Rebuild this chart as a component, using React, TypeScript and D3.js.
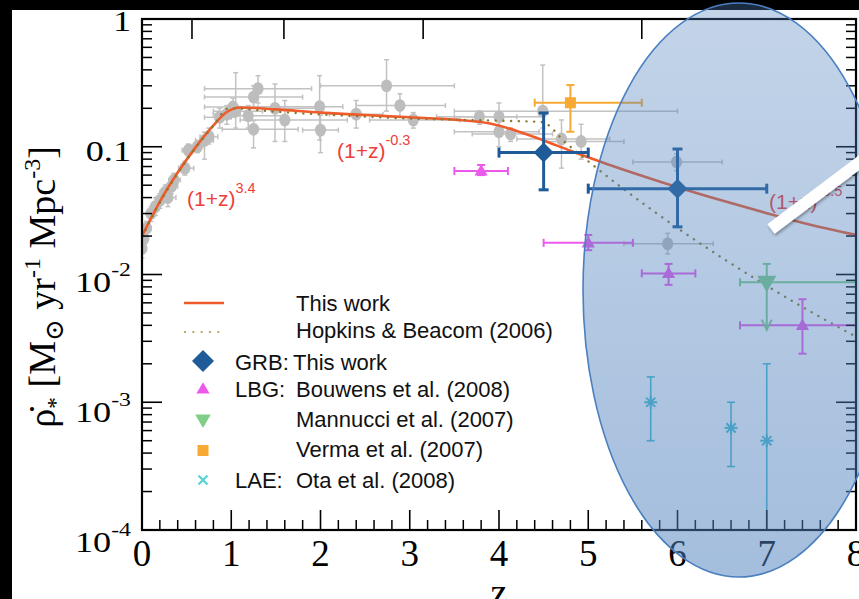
import React from "react";
import * as d3 from "d3";

const W = 859;
const H = 599;

// Compilation of earlier star-formation-rate measurements (grey)
const compZ = [0.0, 0.02, 0.05, 0.1, 0.15, 0.2, 0.26, 0.29, 0.33, 0.36, 0.48, 0.52, 0.62, 0.7, 0.75, 0.87, 0.95, 1.02, 1.05, 1.19, 1.25, 1.25, 1.3, 1.49, 1.6, 1.99, 2.0, 2.4, 2.74, 2.89, 3.04, 3.78, 4.0, 4.0, 4.13, 4.49, 4.7, 4.92, 5.99, 5.89];
const compRate = [0.016, 0.019, 0.023, 0.03, 0.034, 0.038, 0.044, 0.04, 0.049, 0.055, 0.068, 0.094, 0.1, 0.112, 0.12, 0.17, 0.18, 0.205, 0.19, 0.175, 0.137, 0.245, 0.285, 0.2, 0.162, 0.206, 0.135, 0.18, 0.3, 0.21, 0.162, 0.172, 0.172, 0.131, 0.126, 0.19, 0.115, 0.11, 0.076, 0.0174];
const compZLow = [0.0, 0.0, 0.01, 0.05, 0.1, 0.15, 0.2, 0.2, 0.26, 0.3, 0.41, 0.45, 0.55, 0.6, 0.65, 0.7, 0.8, 0.7, 0.8, 0.9, 0.9, 0.7, 0.7, 1.1, 1.1, 1.25, 1.8, 2.1, 2.0, 2.4, 2.55, 3.3, 3.5, 3.5, 3.7, 3.5, 4.2, 4.5, 5.5, 5.4];
const compZHigh = [0.03, 0.05, 0.1, 0.15, 0.2, 0.25, 0.33, 0.38, 0.4, 0.43, 0.58, 0.6, 0.7, 0.8, 0.85, 1.0, 1.1, 1.3, 1.35, 1.6, 1.75, 1.8, 1.9, 2.0, 2.3, 2.25, 2.2, 2.7, 3.5, 3.4, 3.56, 4.2, 4.5, 4.45, 4.6, 6.0, 5.24, 5.4, 6.5, 6.4];
const compRateLow = [0.0135, 0.0165, 0.02, 0.026, 0.029, 0.033, 0.038, 0.034, 0.043, 0.049, 0.06, 0.085, 0.09, 0.08, 0.105, 0.14, 0.15, 0.17, 0.14, 0.14, 0.098, 0.2, 0.22, 0.11, 0.11, 0.113, 0.09, 0.14, 0.19, 0.17, 0.14, 0.15, 0.13, 0.1, 0.11, 0.14, 0.068, 0.08, 0.065, 0.0145];
const compRateHigh = [0.019, 0.022, 0.026, 0.034, 0.04, 0.043, 0.05, 0.046, 0.055, 0.062, 0.077, 0.105, 0.112, 0.13, 0.14, 0.2, 0.21, 0.24, 0.38, 0.21, 0.16, 0.3, 0.36, 0.31, 0.23, 0.36, 0.177, 0.23, 0.48, 0.26, 0.185, 0.19, 0.22, 0.16, 0.14, 0.436, 0.162, 0.15, 0.088, 0.021];

// Broken power-law fit: (1+z)^3.4, (1+z)^-0.3, (1+z)^-3.5
const fitZ = [0, 0.2, 0.4, 0.6, 0.8, 0.95, 1.1, 1.5, 2, 2.5, 3, 3.5, 3.9, 4.2, 4.5, 4.8, 5.2, 5.6, 6, 6.5, 7, 7.5, 8];
const fitRate = [0.02, 0.0372, 0.0628, 0.0989, 0.147, 0.187, 0.203, 0.196, 0.185, 0.177, 0.17, 0.163, 0.152, 0.133, 0.112, 0.093, 0.0737, 0.0593, 0.0482, 0.0379, 0.0302, 0.0244, 0.0204];

// Hopkins & Beacom (2006)
const hbZ = [0, 0.2, 0.4, 0.6, 0.8, 0.97, 1.5, 2, 2.5, 3, 3.5, 4, 4.48, 4.75, 5, 5.25, 5.5, 5.75, 6, 6.5, 7, 7.5, 8];
const hbRate = [0.0197, 0.0366, 0.062, 0.098, 0.146, 0.2, 0.188, 0.179, 0.172, 0.166, 0.163, 0.16, 0.156, 0.107, 0.0769, 0.0559, 0.0412, 0.0307, 0.0231, 0.0135, 0.00816, 0.00508, 0.00326];

// GRB: this work
const grbZ = [4.5, 6.0];
const grbRate = [0.09, 0.047];
const grbZLow = [4.0, 5.0];
const grbZHigh = [5.0, 7.0];
const grbRateLow = [0.046, 0.0236];
const grbRateHigh = [0.184, 0.096];

// LBG: Bouwens et al. (2008)
const lbgZ = [3.8, 5.0, 5.9, 7.4];
const lbgRate = [0.0646, 0.0177, 0.0102, 0.004];
const lbgZLow = [3.5, 4.5, 5.6, 6.7];
const lbgZHigh = [4.1, 5.5, 6.2, 8.0];
const lbgRateLow = [0.06, 0.0155, 0.0083, 0.0024];
const lbgRateHigh = [0.072, 0.0204, 0.0121, 0.0064];

// Mannucci et al. (2007): upper limit
const manZ = [7.0];
const manRate = [0.0087];
const manZLow = [6.7];
const manZHigh = [8.0];
const manRateHigh = [0.0121];
const manArrowTo = [0.0037];

// Verma et al. (2007)
const verZ = [4.8];
const verRate = [0.221];
const verZLow = [4.4];
const verZHigh = [5.6];
const verRateLow = [0.131];
const verRateHigh = [0.304];

// LAE: Ota et al. (2008)
const laeZ = [5.7, 6.6, 7.0];
const laeRate = [0.001, 0.00063, 0.0005];
const laeRateLow = [0.0005, 0.000314, 0.0001];
const laeRateHigh = [0.00158, 0.001, 0.002];

// Cosmic age (Gyr) marks along the top axis and their redshifts
const ageTicksGyr = [8, 4, 2, 1];
const ageTicksZ = [0.56, 1.59, 3.15, 5.6];

const xTicks = [0, 1, 2, 3, 4, 5, 6, 7, 8];
const yDecades = [1, 0.1, 0.01, 0.001, 0.0001];
const yTickLabels = ["1", "0.1", "10|-2", "10|-3", "10|-4"];

const C = {
  fit: "#f15a2a",
  fitLabel: "#ef3d3a",
  hb: "#8a7a2e",
  grb: "#1f5b98",
  lbg: "#ec5aec",
  man: "#7fcf88",
  ver: "#f6aa33",
  lae: "#46bcd0",
  grey: "#c2c2c2",
};

const sans = "'Liberation Sans', Arial, Helvetica, sans-serif";
const serif = "'Liberation Serif', 'Times New Roman', 'DejaVu Serif', serif";

export default function App() {
  const x = d3.scaleLinear().domain([0, 8]).range([142, 856]);
  const y = d3.scaleLog().domain([1e-4, 1]).range([530, 19]);
  const [x0, x1] = x.range();
  const [yb, yt] = y.range();

  const fitLine = d3
    .line<number>()
    .x((_, i) => x(fitZ[i]))
    .y((v) => y(v))
    .curve(d3.curveMonotoneX)(fitRate);
  const hbLine = d3
    .line<number>()
    .x((_, i) => x(hbZ[i]))
    .y((v) => y(v))
    .curve(d3.curveMonotoneX)(hbRate);

  const err = (
    key: string,
    cx: number,
    cy: number,
    xl: number | null,
    xh: number | null,
    yl: number | null,
    yh: number | null,
    color: string,
    w: number,
    cap: number
  ) => (
    <g key={key} stroke={color} strokeWidth={w} fill="none">
      {xl !== null && xh !== null && (
        <>
          <line x1={xl} x2={xh} y1={cy} y2={cy} />
          <line x1={xl} x2={xl} y1={cy - cap} y2={cy + cap} />
          <line x1={xh} x2={xh} y1={cy - cap} y2={cy + cap} />
        </>
      )}
      {yl !== null && yh !== null && (
        <>
          <line x1={cx} x2={cx} y1={yl} y2={yh} />
          <line x1={cx - cap} x2={cx + cap} y1={yl} y2={yl} />
          <line x1={cx - cap} x2={cx + cap} y1={yh} y2={yh} />
        </>
      )}
    </g>
  );

  const diamond = (cx: number, cy: number, r: number, color: string, key?: string) => (
    <path key={key} d={`M${cx},${cy - r}L${cx + r},${cy}L${cx},${cy + r}L${cx - r},${cy}Z`} fill={color} />
  );
  const triUp = (cx: number, cy: number, s: number, color: string, key?: string) => (
    <path key={key} d={`M${cx},${cy - s * 0.62}L${cx + s * 0.6},${cy + s * 0.42}L${cx - s * 0.6},${cy + s * 0.42}Z`} fill={color} />
  );
  const triDown = (cx: number, cy: number, s: number, color: string, key?: string) => (
    <path key={key} d={`M${cx},${cy + s * 0.62}L${cx + s * 0.6},${cy - s * 0.42}L${cx - s * 0.6},${cy - s * 0.42}Z`} fill={color} />
  );
  const asterisk = (cx: number, cy: number, r: number, color: string, key?: string) => (
    <g key={key} stroke={color} strokeWidth={2}>
      {[0, 45, 90, 135].map((a) => {
        const t = (a * Math.PI) / 180;
        return <line key={a} x1={cx - r * Math.cos(t)} y1={cy - r * Math.sin(t)} x2={cx + r * Math.cos(t)} y2={cy + r * Math.sin(t)} />;
      })}
    </g>
  );

  // Minor ticks for the log axis
  const minorY: number[] = [];
  for (let d = -4; d < 0; d++) for (let m = 2; m <= 9; m++) minorY.push(m * Math.pow(10, d));
  const minorX: number[] = [];
  for (let v = 0; v < 8; v++) for (let m = 1; m <= 4; m++) minorX.push(v + m * 0.2);

  // Pointer bar on top of the highlighted region
  const barStart = [771, 229];
  const barAng = (-37 * Math.PI) / 180;
  const barLen = 140;
  const barHalf = 6;
  const ux = Math.cos(barAng), uy = Math.sin(barAng);
  const px = -uy, py = ux;
  const barPts = [
    [barStart[0] + px * barHalf, barStart[1] + py * barHalf],
    [barStart[0] - px * barHalf, barStart[1] - py * barHalf],
    [barStart[0] - px * barHalf + ux * barLen, barStart[1] - py * barHalf + uy * barLen],
    [barStart[0] + px * barHalf + ux * barLen, barStart[1] + py * barHalf + uy * barLen],
  ];

  const legendRows = [
    { label: "This work", prefix: "", base: 311 },
    { label: "Hopkins & Beacom (2006)", prefix: "", base: 338 },
    { label: "This work", prefix: "GRB:", base: 370 },
    { label: "Bouwens et al. (2008)", prefix: "LBG:", base: 397 },
    { label: "Mannucci et al. (2007)", prefix: "", base: 427 },
    { label: "Verma et al. (2007)", prefix: "", base: 457 },
    { label: "Ota et al. (2008)", prefix: "LAE:", base: 488 },
  ];

  return (
    <div style={{ position: "fixed", left: 0, top: 0 }}>
      <svg width={W} height={H} viewBox={`0 0 ${W} ${H}`} style={{ display: "block" }}>
        <defs>
          <clipPath id="plotArea">
            <rect x={x0} y={yt} width={x1 - x0} height={yb - yt} />
          </clipPath>
          <linearGradient id="spotFill" x1="0" y1="0" x2="0" y2="1">
            <stop offset="0" stopColor="#4f81bd" stopOpacity={0.34} />
            <stop offset="1" stopColor="#4f81bd" stopOpacity={0.52} />
          </linearGradient>
          <filter id="barShadow" x="-20%" y="-50%" width="140%" height="200%">
            <feDropShadow dx="1" dy="2" stdDeviation="1.5" floodColor="#000" floodOpacity="0.35" />
          </filter>
        </defs>

        <rect x={0} y={0} width={W} height={H} fill="#000" />
        <rect x={12} y={10} width={W - 12} height={H - 10} fill="#fff" />

        <g clipPath="url(#plotArea)">
          {/* grey compilation */}
          {compZ.map((z, i) =>
            err(`ce${i}`, x(z), y(compRate[i]), x(compZLow[i]), x(compZHigh[i]), y(compRateLow[i]), y(compRateHigh[i]), C.grey, 1.5, 2.5)
          )}
          {compZ.map((z, i) => (
            <ellipse key={`cp${i}`} cx={x(z)} cy={y(compRate[i])} rx={5.6} ry={6.4} fill="#bdbdbd" />
          ))}

          <path d={fitLine || ""} fill="none" stroke={C.fit} strokeWidth={2.6} />
          <path d={hbLine || ""} fill="none" stroke={C.hb} strokeWidth={2.4} strokeLinecap="round" strokeDasharray="0.1 7.6" />

          {/* Verma */}
          {verZ.map((z, i) => (
            <g key={`v${i}`}>
              {err(`ve${i}`, x(z), y(verRate[i]), x(verZLow[i]), x(verZHigh[i]), y(verRateLow[i]), y(verRateHigh[i]), C.ver, 2, 4)}
              <rect x={x(z) - 5.5} y={y(verRate[i]) - 5.5} width={11} height={11} fill={C.ver} />
            </g>
          ))}

          {/* LBG */}
          {lbgZ.map((z, i) => (
            <g key={`l${i}`}>
              {err(`le${i}`, x(z), y(lbgRate[i]), x(lbgZLow[i]), x(lbgZHigh[i]), y(lbgRateLow[i]), y(lbgRateHigh[i]), C.lbg, 2, 4)}
              {triUp(x(z), y(lbgRate[i]), 11, C.lbg)}
            </g>
          ))}

          {/* Mannucci upper limit */}
          {manZ.map((z, i) => {
            const cx = x(z), cy = y(manRate[i]), ay = y(manArrowTo[i]);
            return (
              <g key={`m${i}`} stroke={C.man} strokeWidth={2} fill="none">
                <line x1={x(manZLow[i])} x2={x(manZHigh[i])} y1={cy} y2={cy} />
                <line x1={x(manZLow[i])} x2={x(manZLow[i])} y1={cy - 4} y2={cy + 4} />
                <line x1={cx} x2={cx} y1={y(manRateHigh[i])} y2={ay} />
                <line x1={cx - 4} x2={cx + 4} y1={y(manRateHigh[i])} y2={y(manRateHigh[i])} />
                <path d={`M${cx - 5},${ay - 10}L${cx},${ay}L${cx + 5},${ay - 10}`} />
                {triDown(cx, cy, 13, C.man)}
              </g>
            );
          })}

          {/* LAE */}
          {laeZ.map((z, i) => (
            <g key={`a${i}`}>
              {err(`ae${i}`, x(z), y(laeRate[i]), null, null, y(laeRateLow[i]), y(laeRateHigh[i]), C.lae, 1.6, 4)}
              {asterisk(x(z), y(laeRate[i]), 6.5, C.lae)}
            </g>
          ))}

          {/* GRB */}
          {grbZ.map((z, i) => (
            <g key={`g${i}`}>
              {err(`ge${i}`, x(z), y(grbRate[i]), x(grbZLow[i]), x(grbZHigh[i]), y(grbRateLow[i]), y(grbRateHigh[i]), C.grb, 3, 5)}
              {diamond(x(z), y(grbRate[i]), 10, C.grb)}
            </g>
          ))}
        </g>

        {/* slope annotations */}
        <g fill={C.fitLabel} fontFamily={sans} fontSize={21}>
          <text x={187} y={206}>
            (1+z)<tspan dy={-13} fontSize={14.5}>3.4</tspan>
          </text>
          <text x={337} y={158}>
            (1+z)<tspan dy={-13} fontSize={14.5}>-0.3</tspan>
          </text>
          <text x={769} y={209}>
            (1+z)<tspan dy={-13} fontSize={14.5}>-3.5</tspan>
          </text>
        </g>

        {/* legend */}
        <g fontFamily={sans} fontSize={22} fill="#111">
          <line x1={184} x2={224} y1={303} y2={303} stroke={C.fit} strokeWidth={2.6} />
          <line x1={185} x2={224} y1={332} y2={332} stroke="#b59c52" strokeWidth={2.2} strokeLinecap="round" strokeDasharray="0.1 8.2" />
          {diamond(203, 361, 11, C.grb)}
          {triUp(203, 389, 11, C.lbg)}
          {triDown(203, 420, 13, C.man)}
          <rect x={197.5} y={445} width={11} height={11} fill={C.ver} />
          <g stroke="#52d2da" strokeWidth={2.2}>
            <line x1={198.5} x2={207.5} y1={475.5} y2={484.5} />
            <line x1={198.5} x2={207.5} y1={484.5} y2={475.5} />
          </g>
          {legendRows.map((r, i) => (
            <g key={`lg${i}`}>
              {r.prefix && (
                <text x={235} y={r.base}>
                  {r.prefix}
                </text>
              )}
              <text x={r.prefix === "GRB:" ? 293 : 296} y={r.base}>
                {r.label}
              </text>
            </g>
          ))}
        </g>

        {/* frame and ticks */}
        <g stroke="#000" fill="none">
          <rect x={x0} y={yt} width={x1 - x0} height={yb - yt} strokeWidth={2.2} />
          {yDecades.map((v) => (
            <g key={`yd${v}`} strokeWidth={1.6}>
              <line x1={x0} x2={x0 + 20} y1={y(v)} y2={y(v)} />
              <line x1={x1} x2={x1 - 20} y1={y(v)} y2={y(v)} />
            </g>
          ))}
          {minorY.map((v) => (
            <g key={`ym${v}`} strokeWidth={1.5}>
              <line x1={x0} x2={x0 + 10} y1={y(v)} y2={y(v)} />
              <line x1={x1} x2={x1 - 10} y1={y(v)} y2={y(v)} />
            </g>
          ))}
          {xTicks.map((v) => (
            <line key={`xt${v}`} x1={x(v)} x2={x(v)} y1={yb} y2={yb - 20} strokeWidth={1.6} />
          ))}
          {minorX.map((v) => (
            <line key={`xm${v}`} x1={x(v)} x2={x(v)} y1={yb} y2={yb - 10} strokeWidth={1.5} />
          ))}
          {ageTicksZ.map((z, i) => (
            <line key={`age${ageTicksGyr[i]}`} x1={x(z)} x2={x(z)} y1={yt} y2={yt + 20} strokeWidth={1.6} />
          ))}
        </g>

        {/* tick labels */}
        <g fontFamily={serif} fill="#000">
          {xTicks.map((v) => (
            <text key={`xl${v}`} x={x(v)} y={566} fontSize={37} textAnchor="middle">
              {v}
            </text>
          ))}
          {yDecades.map((v, i) => {
            const parts = yTickLabels[i].split("|");
            return (
              <text
                key={`yl${v}`}
                transform={`translate(131,${y(v) + 12 + 2.5 * i}) scale(1.25,1)`}
                fontSize={29}
                textAnchor="end"
              >
                {parts[0]}
                {parts[1] && (
                  <tspan dy={-16} fontSize={19}>
                    {parts[1]}
                  </tspan>
                )}
              </text>
            );
          })}
          <text x={499} y={605} fontSize={38} textAnchor="middle">
            z
          </text>
          <text transform="translate(55,287) rotate(-90)" fontSize={38} textAnchor="middle">
            {"ρ\u0307"}
            <tspan dy={8} fontSize={24}>*</tspan>
            <tspan dy={-8}> [M</tspan>
            <tspan dy={8} fontSize={26}>⊙</tspan>
            <tspan dy={-8}> yr</tspan>
            <tspan dy={-15} fontSize={24}>-1</tspan>
            <tspan dy={15}> Mpc</tspan>
            <tspan dy={-15} fontSize={24}>-3</tspan>
            <tspan dy={15}>]</tspan>
          </text>
        </g>

        {/* highlighted high-redshift region */}
        <ellipse cx={739} cy={290} rx={156} ry={287} fill="url(#spotFill)" stroke="#4a7fc0" strokeWidth={1.6} />

        <polygon
          points={barPts.map((p) => p.join(",")).join(" ")}
          fill="#fff"
          filter="url(#barShadow)"
        />
      </svg>
    </div>
  );
}
